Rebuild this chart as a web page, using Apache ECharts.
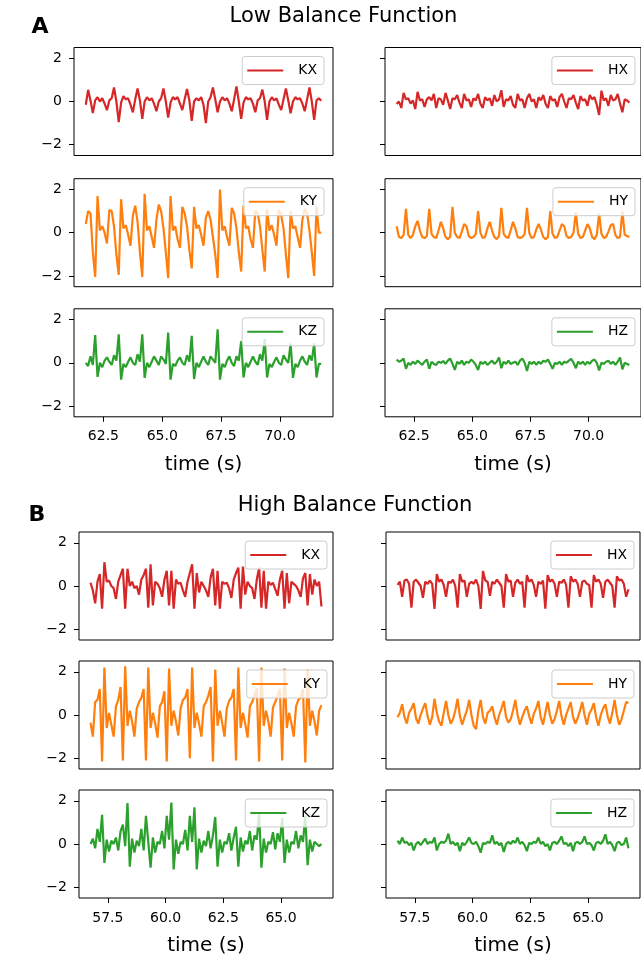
<!DOCTYPE html>
<html>
<head>
<meta charset="utf-8">
<title>Balance Function</title>
<script src="https://cdn.jsdelivr.net/npm/echarts@6.0.0/dist/echarts.min.js"></script>
<style>
  html, body { margin: 0; padding: 0; background: #fff; }
  #chart { width: 641px; height: 957px; }
</style>
</head>
<body>
<div id="chart"></div>
<script>
//  采样间隔和起始时间 (s)
var DT = 0.1;
var START_A = 61.75;
var START_B = 56.75;
var XLIM_A = [61.25, 72.25];
var XLIM_B = [56.25, 67.25];
var X_TICKS_A = [62.5, 65.0, 67.5, 70.0];
var X_TICKS_B = [57.5, 60.0, 62.5, 65.0];
var Y_TICKS = [-2, 0, 2];
var Y_LIM = [-2.5, 2.5];
var TITLES = ['Low Balance Function', 'High Balance Function'];
var LETTERS = ['A', 'B'];
var NAMES = [['KX', 'HX'], ['KY', 'HY'], ['KZ', 'HZ']];
var COLORS = ['#d62728', '#ff7f0e', '#2ca02c'];

//  A: Low Balance Function
var A_KX = [
  -0.15, 0.54, 0.05, -0.54, 0.05, 0.2, 0.0, 0.15, -0.1, -0.4,
  0.05, 0.15, 0.65, 0.0, -0.95, -0.05, 0.25, 0.1, 0.15, -0.15,
  -0.5, 0.1, 0.6, 0.05, -0.8, 0.0, 0.2, 0.05, 0.15, -0.1,
  -0.45, 0.0, 0.15, 0.6, 0.0, -0.75, -0.05, 0.2, 0.1, 0.2,
  -0.1, -0.4, 0.1, 0.58, 0.05, -0.9, 0.0, 0.15, 0.05, 0.2,
  -0.15, -1.0, 0.0, 0.2, 0.65, 0.1, -0.5, 0.0, 0.2, 0.05,
  0.15, -0.1, -0.45, 0.1, 0.7, 0.0, -0.8, -0.05, 0.2, 0.1,
  0.15, -0.1, -0.5, 0.05, 0.15, 0.55, 0.0, -0.85, 0.0, 0.2,
  0.05, 0.15, -0.15, -0.4, 0.1, 0.6, 0.05, -0.55, 0.0, 0.2,
  0.1, 0.15, -0.1, -0.45, 0.1, 0.65, 0.0, -0.85, 0.05, 0.15,
  0.03
];
var A_HX = [
  -0.12, 0.0, -0.3, 0.4, 0.1, 0.15, -0.1, 0.05, -0.35, 0.45,
  0.05, 0.1, -0.25, 0.1, 0.2, 0.05, 0.35, -0.3, 0.15, 0.1,
  -0.15, 0.4, 0.05, -0.35, 0.15, 0.1, 0.3, -0.05, -0.3, 0.35,
  0.05, 0.1, -0.25, 0.15, 0.05, 0.35, -0.1, -0.3, 0.2, 0.05,
  0.15, -0.2, 0.3, 0.0, 0.1, 0.52, -0.25, 0.1, 0.05, 0.25,
  -0.15, -0.3, 0.35, 0.05, 0.1, -0.3, 0.15, 0.35, 0.0, 0.1,
  -0.3, 0.2, 0.05, 0.3, -0.1, -0.3, 0.25, 0.05, 0.1, -0.25,
  0.2, 0.35, 0.0, -0.3, 0.15, 0.1, 0.3, -0.05, -0.35, 0.25,
  0.05, 0.1, -0.2, 0.3, 0.1, 0.2, -0.15, -0.62, 0.5, 0.05,
  0.15, -0.2, 0.3, 0.05, 0.1, 0.35, -0.1, -0.5, 0.1, 0.05,
  -0.05
];
var A_KY = [
  0.4, 1.0, 0.9, -0.9, -2.05, 1.7, 0.1, 0.3, 0.0, -0.5,
  1.05, 1.0, 0.3, -1.0, -1.95, 1.55, 0.2, 0.35, -0.1, -0.6,
  0.8, 1.25, 0.5, -0.9, -2.05, 1.8, 0.1, 0.3, -0.2, -0.7,
  0.6, 1.3, 1.0, 0.2, -0.9, -2.1, 1.7, 0.1, 0.3, -0.3,
  -0.7, 1.2, 0.9, 0.3, -0.8, -1.65, 1.2, 0.2, 0.35, -0.1,
  -0.6, 0.7, 1.0, 0.6, -0.2, -1.0, -2.1, 2.0, 0.1, 0.3,
  -0.2, -0.6, 1.15, 0.9, 0.2, -0.9, -1.8, 1.25, 0.2, 0.3,
  -0.3, -0.7, 1.0, 0.9, 0.3, -0.8, -1.8, 1.1, 0.1, 0.35,
  -0.1, -0.6, 1.05, 0.8, 0.2, -1.0, -2.1, 1.0, 0.2, 0.3,
  -0.2, -0.7, 0.6, 1.1, 0.9, 0.1, -0.9, -2.0, 1.25, 0.0,
  0.0
];
var A_HY = [
  0.3, -0.2, -0.25, -0.1, 1.1, -0.1, -0.25, -0.1, 0.3, 0.55,
  0.1, -0.2, -0.25, -0.15, 1.1, -0.05, -0.2, -0.25, 0.1, 0.5,
  0.2, -0.2, -0.3, -0.2, 1.2, 0.0, -0.2, -0.25, 0.05, 0.4,
  0.3, -0.15, -0.25, -0.2, -0.05, 1.0, 0.0, -0.25, -0.2, 0.2,
  0.5, 0.1, -0.2, -0.3, -0.15, 1.15, -0.05, -0.2, -0.25, 0.1,
  0.5, 0.2, -0.2, -0.25, -0.2, -0.05, 1.15, 0.0, -0.25, -0.2,
  0.15, 0.4, 0.15, -0.2, -0.3, -0.2, 1.0, -0.05, -0.25, -0.2,
  0.1, 0.4, 0.3, -0.15, -0.25, -0.2, 0.0, 0.95, -0.05, -0.25,
  -0.2, 0.1, 0.4, 0.2, -0.2, -0.3, -0.1, 0.9, -0.05, -0.25,
  -0.2, 0.05, 0.35, 0.4, -0.1, -0.25, -0.2, 1.0, -0.1, -0.15,
  -0.2
];
var A_KZ = [
  0.0, -0.15, 0.3, -0.1, 1.28, -0.65, 0.0, -0.2, 0.1, 0.25,
  0.05, -0.1, 0.35, 0.1, 1.32, -0.78, -0.05, -0.2, 0.05, 0.25,
  0.0, -0.1, 0.4, 0.05, 1.32, -0.7, 0.0, -0.2, 0.05, 0.3,
  0.1, -0.1, 0.3, 0.15, -0.05, 1.4, -0.78, -0.05, -0.15, 0.1,
  0.25, 0.0, -0.1, 0.35, 0.05, 1.25, -0.75, 0.0, -0.2, 0.05,
  0.3, 0.05, -0.1, 0.3, 0.15, 0.0, 1.55, -0.78, -0.05, -0.2,
  0.1, 0.3, 0.0, -0.15, 0.3, 0.1, 1.0, -0.68, 0.0, -0.2,
  0.05, 0.3, 0.05, -0.1, 0.4, 0.1, 1.1, -0.68, -0.05, -0.2,
  0.05, 0.25, 0.0, -0.1, 0.35, 0.15, 0.0, 0.9, -0.7, -0.05,
  -0.2, 0.1, 0.3, 0.05, -0.1, 0.35, 0.1, 0.9, -0.68, -0.05,
  -0.05
];
var A_HZ = [
  0.15, 0.05, 0.1, 0.2, -0.28, 0.0, -0.1, 0.05, -0.05, 0.1,
  0.0, -0.1, 0.05, 0.15, -0.28, 0.05, -0.05, -0.1, 0.05, 0.0,
  0.08, -0.05, 0.1, 0.2, -0.05, -0.33, 0.05, -0.05, 0.1, -0.1,
  0.05, 0.0, 0.15, 0.05, -0.1, -0.33, 0.05, -0.05, 0.05, -0.1,
  0.0, 0.1, -0.05, 0.05, 0.25, -0.25, 0.05, -0.05, 0.1, -0.05,
  0.0, 0.05, -0.1, 0.1, 0.2, 0.0, -0.38, 0.05, -0.05, 0.05,
  -0.1, 0.05, -0.05, 0.1, 0.05, 0.15, -0.05, -0.28, 0.0, -0.05,
  0.05, -0.1, 0.05, 0.0, 0.1, 0.18, 0.0, -0.25, 0.05, -0.05,
  0.05, -0.1, 0.05, -0.05, 0.1, 0.15, 0.0, -0.35, 0.0, -0.05,
  0.05, 0.1, -0.05, 0.05, -0.1, 0.05, 0.25, -0.3, 0.0, -0.05,
  -0.1
];

//  B: High Balance Function
var B_KX = [
  0.15, -0.2, -0.8, 0.2, 0.55, -1.05, 1.1, 0.2, 0.25, 0.0,
  -0.1, -0.6, 0.2, 0.5, 0.8, -1.05, 0.8, 0.0, 0.2, -0.1,
  0.0, -0.4, 0.3, 0.5, 0.8, -1.0, 1.0, -0.9, 0.2, 0.1,
  -0.1, -0.5, 0.3, 0.7, -0.9, 0.7, -1.05, 0.3, 0.1, 0.15,
  -0.2, -0.5, 0.2, 0.6, 1.0, -1.05, 0.6, -0.3, 0.2, 0.0,
  -0.2, -0.5, 0.4, 0.8, -0.9, 0.7, -1.05, 0.2, 0.1, 0.15,
  -0.1, -0.55, 0.3, 0.6, 0.85, -1.05, 0.9, -0.4, 0.2, 0.0,
  -0.1, -0.6, 0.3, 0.85, -1.0, 0.7, -1.05, 0.2, 0.05, 0.15,
  -0.15, -0.45, 0.3, 0.7, -1.05, 0.6, -0.8, 0.2, 0.1, 0.0,
  -0.2, -0.5, 0.35, 0.6, -0.9, 0.55, -0.4, 0.3, 0.0, 0.2,
  -0.95
];
var B_HX = [
  0.05, 0.2, -0.5, 0.25, 0.3, 0.1, -1.0, 0.2, 0.3, 0.15,
  0.0, -0.55, 0.2, 0.1, 0.25, 0.1, -1.06, 0.55, 0.2, 0.3,
  0.05, -0.5, 0.2, 0.15, 0.3, 0.0, -1.0, 0.55, 0.2, 0.25,
  -0.5, 0.1, 0.2, 0.1, 0.3, 0.0, -1.06, 0.7, 0.25, 0.2,
  -0.45, 0.2, 0.1, 0.3, 0.15, 0.0, -1.0, 0.55, 0.2, 0.25,
  -0.5, 0.15, 0.3, 0.1, 0.2, -1.0, 0.5, 0.2, 0.3, 0.05,
  -0.5, 0.2, 0.1, 0.25, -1.05, 0.5, 0.2, 0.3, 0.1, -0.5,
  0.2, 0.15, 0.3, 0.05, -1.0, 0.45, 0.2, 0.3, 0.1, -0.5,
  0.2, 0.25, 0.1, 0.05, -1.0, 0.5, 0.2, 0.3, 0.1, -0.55,
  0.2, 0.3, 0.15, 0.0, -1.0, 0.45, 0.25, 0.3, 0.1, -0.5,
  -0.15
];
var B_KY = [
  -0.35, -1.0, 0.6, 0.7, 1.2, -2.15, 2.2, -0.6, 0.1, -0.45,
  -1.0, 0.4, 0.7, 1.3, -2.1, 2.25, -0.5, 0.2, -0.3, -1.0,
  0.3, 0.6, 0.8, 1.2, -2.1, 2.2, -0.6, 0.1, -0.4, -1.05,
  0.4, 0.6, 1.1, -2.15, 2.15, -0.5, 0.2, -0.3, -0.95, 0.3,
  0.7, 0.8, 1.2, -2.0, 2.2, -0.6, 0.1, -0.4, -1.0, 0.4,
  0.6, 0.9, 1.3, -2.15, 2.1, -0.5, 0.2, -0.35, -1.0, 0.3,
  0.65, 0.8, 1.2, -2.1, 2.2, -0.6, 0.1, -0.4, -1.05, 0.4,
  0.6, 0.9, 1.25, -2.15, 2.2, -0.5, 0.2, -0.3, -1.0, 0.35,
  0.6, 0.9, 1.2, -2.1, 2.15, -0.6, 0.1, -0.4, -1.0, 0.4,
  0.7, 0.8, 1.2, -2.2, 2.1, -0.5, 0.2, -0.3, -0.95, 0.2,
  0.45
];
var B_HY = [
  -0.1, 0.1, 0.5, -0.1, -0.4, 0.1, 0.3, 0.55, -0.15, -0.4,
  0.0, 0.3, 0.55, -0.05, -0.45, -0.1, 0.75, 0.1, -0.3, -0.5,
  0.1, 0.65, 0.0, -0.4, -0.2, 0.2, 0.75, -0.05, -0.45, -0.1,
  0.2, 0.7, 0.0, -0.5, -0.65, 0.2, 0.7, -0.1, -0.4, 0.1,
  0.2, 0.4, -0.1, -0.45, 0.0, 0.3, 0.65, -0.1, -0.35, -0.2,
  0.2, 0.7, 0.0, -0.45, -0.1, 0.2, 0.4, -0.05, -0.4, 0.05,
  0.3, 0.65, -0.1, -0.45, 0.1, 0.6, 0.0, -0.4, -0.2, 0.2,
  0.65, -0.05, -0.45, 0.0, 0.3, 0.6, -0.1, -0.4, -0.15, 0.2,
  0.6, 0.0, -0.45, 0.05, 0.25, 0.55, -0.1, -0.5, 0.0, 0.3,
  0.5, -0.05, -0.4, 0.1, 0.7, 0.0, -0.45, -0.2, 0.2, 0.6,
  0.55
];
var B_KZ = [
  0.0, 0.25, -0.2, 0.7, 0.1, 1.35, -0.88, 0.2, -0.35, 0.15,
  0.0, 0.3, -0.3, 0.6, 0.9, -0.1, 1.9, -1.05, 0.25, -0.4,
  0.15, -0.1, 0.7, -0.3, 1.3, 0.1, -1.1, 0.3, -0.4, 0.1,
  0.0, 0.6, -0.2, 1.3, 0.2, 1.92, -1.18, 0.2, -0.45, 0.1,
  0.0, 0.65, -0.3, 1.3, 0.1, 1.7, -1.18, 0.25, -0.4, 0.15,
  -0.1, 0.6, -0.2, 0.4, 1.25, -1.05, 0.2, -0.4, 0.1, 0.0,
  0.5, -0.3, 0.3, 0.8, -1.05, 0.3, -0.35, 0.15, 0.0, 0.6,
  -0.3, 0.4, 0.2, 1.4, -1.1, 0.25, -0.4, 0.1, 0.0, 0.55,
  -0.25, 0.5, 0.1, 1.2, -0.88, 0.2, -0.4, 0.1, 0.0, 0.6,
  -0.2, 0.4, 0.1, 1.3, -0.98, 0.2, -0.35, 0.1, 0.0, -0.1,
  0.0
];
var B_HZ = [
  0.15, 0.0, 0.3, 0.05, 0.1, -0.05, 0.05, -0.3, 0.0, 0.1,
  -0.05, 0.1, 0.25, 0.0, 0.1, 0.05, 0.3, -0.3, 0.0, 0.1,
  0.05, 0.15, 0.48, 0.0, 0.1, -0.05, 0.05, -0.33, 0.05, -0.05,
  0.1, 0.3, 0.05, 0.0, 0.1, -0.1, -0.4, 0.05, 0.0, 0.1,
  0.05, 0.4, 0.0, 0.1, -0.05, 0.05, -0.37, 0.0, 0.1, 0.0,
  0.15, 0.05, 0.3, 0.0, 0.1, -0.05, -0.33, 0.05, 0.0, 0.1,
  0.05, 0.3, 0.0, 0.1, -0.1, 0.0, -0.3, 0.05, 0.1, 0.0,
  0.15, 0.35, 0.0, 0.05, -0.1, 0.05, -0.33, 0.05, 0.1, 0.0,
  0.1, 0.35, 0.0, 0.05, -0.05, -0.3, 0.05, 0.1, 0.0, 0.15,
  0.45, 0.0, 0.1, -0.05, -0.33, 0.05, 0.1, -0.05, 0.0, 0.3,
  -0.2
];

var FONT = "'DejaVu Sans', sans-serif";

//  每个面板的布局 (像素)
var panels = [
  {
    start: START_A, xlim: XLIM_A, xticks: X_TICKS_A,
    title: {x: 343.5, y: 17}, letter: {x: 40, y: 27},
    tops: [47.5, 178.7, 308.8],
    cols: [{left: 74, width: 259, legendRight: 317}, {left: 385, width: 259, legendRight: 6}],
    data: [[A_KX, A_HX], [A_KY, A_HY], [A_KZ, A_HZ]]
  },
  {
    start: START_B, xlim: XLIM_B, xticks: X_TICKS_B,
    title: {x: 355, y: 506}, letter: {x: 37, y: 515},
    tops: [532, 661, 790],
    cols: [{left: 79, width: 254, legendRight: 314}, {left: 386, width: 254, legendRight: 7}],
    data: [[B_KX, B_HX], [B_KY, B_HY], [B_KZ, B_HZ]]
  }
];
var GRID_HEIGHT = 108;

function toPairs(start, values) {
  return values.map(function (v, i) {
    return [+(start + i * DT).toFixed(2), v];
  });
}

function minusFormat(v) {
  return v < 0 ? '\u2212' + Math.abs(v) : String(v);
}

var grids = [], xAxes = [], yAxes = [], series = [], legends = [], graphics = [];

panels.forEach(function (p, pi) {
  graphics.push({
    type: 'text', x: p.title.x, y: p.title.y,
    style: {text: TITLES[pi], fontSize: 21, fontFamily: FONT, fill: '#000', align: 'center', verticalAlign: 'middle'}
  });
  graphics.push({
    type: 'text', x: p.letter.x, y: p.letter.y,
    style: {text: LETTERS[pi], fontSize: 22, fontWeight: 'bold', fontFamily: FONT, fill: '#000', align: 'center', verticalAlign: 'middle'}
  });
  for (var r = 0; r < 3; r++) {
    for (var c = 0; c < 2; c++) {
      var idx = grids.length;
      var col = p.cols[c];
      var top = p.tops[r];
      var isBottom = r === 2;
      grids.push({
        left: col.left, top: top, width: col.width, height: GRID_HEIGHT,
        show: true, borderColor: '#000', borderWidth: 1, backgroundColor: '#fff'
      });
      //  轴线不跟随 0 点, 刻度画在框的边上
      xAxes.push({
        type: 'value', gridIndex: idx, min: p.xlim[0], max: p.xlim[1],
        axisLine: {show: false, onZero: false},
        splitLine: {show: false},
        axisTick: {show: isBottom, customValues: p.xticks, length: 5, lineStyle: {color: '#000'}},
        axisLabel: {
          show: isBottom, customValues: p.xticks, fontSize: 14, fontFamily: FONT, color: '#000', margin: 13,
          formatter: function (v) { return v.toFixed(1); }
        },
        name: isBottom ? 'time (s)' : '',
        nameLocation: 'middle', nameGap: 38,
        nameTextStyle: {fontSize: 20, fontFamily: FONT, color: '#000'}
      });
      yAxes.push({
        type: 'value', gridIndex: idx, min: Y_LIM[0], max: Y_LIM[1],
        axisLine: {show: false, onZero: false},
        splitLine: {show: false},
        axisTick: {show: true, customValues: Y_TICKS, length: 5, lineStyle: {color: '#000'}},
        axisLabel: {
          show: c === 0, customValues: Y_TICKS, fontSize: 14, fontFamily: FONT, color: '#000', margin: 12,
          formatter: minusFormat
        }
      });
      series.push({
        type: 'line', name: NAMES[r][c], xAxisIndex: idx, yAxisIndex: idx,
        data: toPairs(p.start, p.data[r][c]),
        showSymbol: false, symbol: 'none',
        lineStyle: {width: 2.2, color: COLORS[r]},
        itemStyle: {color: COLORS[r]}
      });
      legends.push({
        data: [NAMES[r][c]], top: top + 9, right: col.legendRight,
        icon: 'rect', itemWidth: 36, itemHeight: 2,
        padding: [7, 7, 7, 5],
        borderColor: '#ccc', borderWidth: 1, borderRadius: 3,
        backgroundColor: 'rgba(255,255,255,0.8)',
        selectedMode: false,
        textStyle: {fontSize: 14, fontFamily: FONT, color: '#000', padding: [0, 0, 0, 10]}
      });
    }
  }
});

var chart = echarts.init(document.getElementById('chart'), null, {renderer: 'canvas'});
chart.setOption({
  animation: false,
  backgroundColor: '#fff',
  grid: grids,
  xAxis: xAxes,
  yAxis: yAxes,
  legend: legends,
  series: series,
  graphic: graphics
});
</script>
</body>
</html>
